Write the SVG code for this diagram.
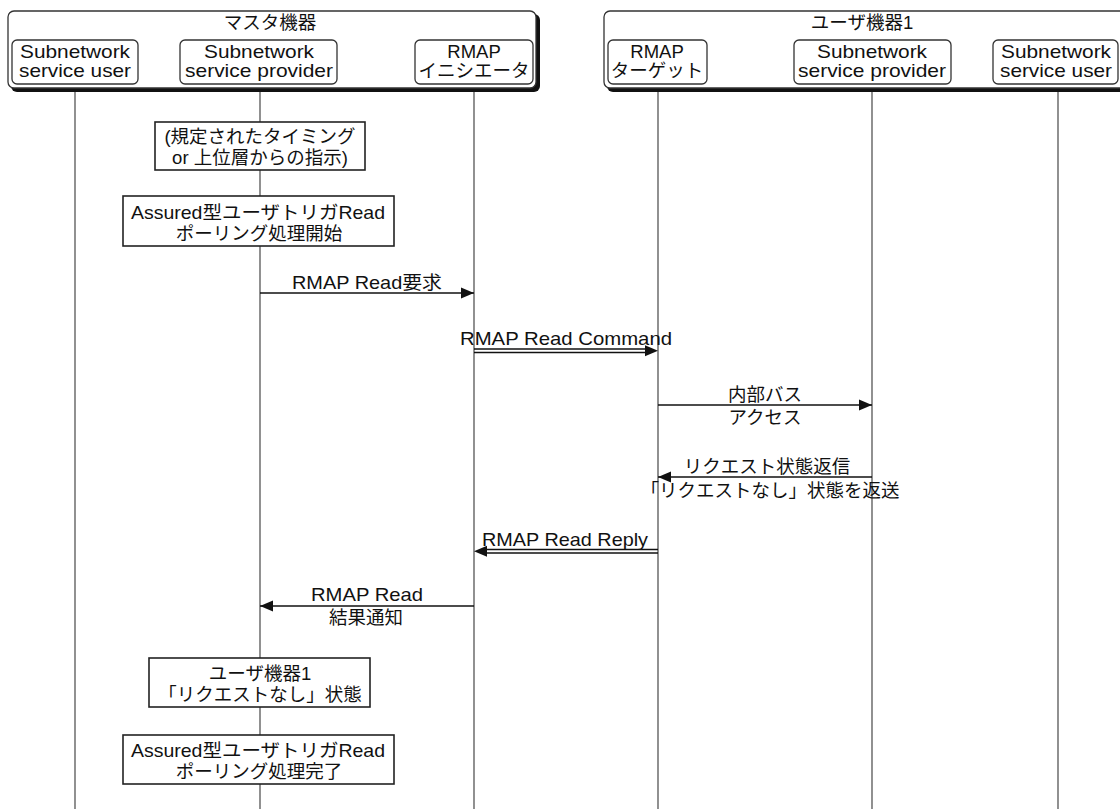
<svg xmlns="http://www.w3.org/2000/svg" width="1120" height="809" viewBox="0 0 1120 809">
<style>
text{font-family:"Liberation Sans","Noto Sans CJK JP",sans-serif;font-size:18.5px;fill:#111;text-anchor:middle}
.life{stroke:#555;stroke-width:1.3;fill:none}
.grp{fill:#fff;stroke:#333;stroke-width:1.3}
.shadow{fill:#111;stroke:none}
.hbox{fill:#fff;stroke:#333;stroke-width:1.3}
.pbox{fill:#fff;stroke:#222;stroke-width:1.6}
.msg{stroke:#111;stroke-width:1.4;fill:none}
</style>
<defs>
<marker id="ah" markerUnits="userSpaceOnUse" markerWidth="14" markerHeight="12" refX="13" refY="6" orient="auto">
<path d="M0,0.5 L13,6 L0,11.5 z" fill="#111"/>
</marker>
</defs>

<g id="lifelines">
<line class="life" x1="75" y1="88" x2="75" y2="809"/>
<line class="life" x1="260" y1="88" x2="260" y2="809"/>
<line class="life" x1="474" y1="88" x2="474" y2="809"/>
<line class="life" x1="658" y1="88" x2="658" y2="809"/>
<line class="life" x1="872" y1="88" x2="872" y2="809"/>
<line class="life" x1="1058" y1="88" x2="1058" y2="809"/>
</g>

<g id="master">
<rect class="shadow" x="11" y="14" width="529" height="78" rx="6"/>
<rect class="grp" x="8" y="11" width="528" height="77" rx="6"/>
<text x="270" y="29">マスタ機器</text>
</g>
<g id="user1">
<rect class="shadow" x="607" y="14" width="540" height="78" rx="6"/>
<rect class="grp" x="604" y="11" width="540" height="77" rx="6"/>
<text x="862" y="29">ユーザ機器1</text>
</g>

<g id="m-ssu">
<rect class="hbox" x="12" y="40" width="126" height="44" rx="5"/>
<text x="75" y="58" textLength="110" lengthAdjust="spacingAndGlyphs">Subnetwork</text>
<text x="75" y="77" textLength="112" lengthAdjust="spacingAndGlyphs">service user</text>
</g>
<g id="m-ssp">
<rect class="hbox" x="180" y="40" width="157" height="44" rx="5"/>
<text x="259" y="58" textLength="110" lengthAdjust="spacingAndGlyphs">Subnetwork</text>
<text x="259" y="77" textLength="148" lengthAdjust="spacingAndGlyphs">service provider</text>
</g>
<g id="m-rmap">
<rect class="hbox" x="415" y="40" width="118" height="44" rx="5"/>
<text x="474" y="58">RMAP</text>
<text x="474" y="77">イニシエータ</text>
</g>
<g id="u-rmap">
<rect class="hbox" x="608" y="40" width="99" height="44" rx="5"/>
<text x="657" y="58">RMAP</text>
<text x="657" y="77">ターゲット</text>
</g>
<g id="u-ssp">
<rect class="hbox" x="794" y="40" width="157" height="44" rx="5"/>
<text x="872" y="58" textLength="110" lengthAdjust="spacingAndGlyphs">Subnetwork</text>
<text x="872" y="77" textLength="148" lengthAdjust="spacingAndGlyphs">service provider</text>
</g>
<g id="u-ssu">
<rect class="hbox" x="993" y="40" width="125" height="44" rx="5"/>
<text x="1056" y="58" textLength="110" lengthAdjust="spacingAndGlyphs">Subnetwork</text>
<text x="1056" y="77" textLength="112" lengthAdjust="spacingAndGlyphs">service user</text>
</g>

<g id="p-trigger">
<rect class="pbox" x="155" y="122" width="210" height="48"/>
<text x="260" y="143">(規定されたタイミング</text>
<text x="260" y="164">or 上位層からの指示)</text>
</g>
<g id="p-start">
<rect class="pbox" x="123" y="196" width="271" height="50"/>
<text x="258" y="219" textLength="254" lengthAdjust="spacingAndGlyphs">Assured型ユーザトリガRead</text>
<text x="259" y="240">ポーリング処理開始</text>
</g>
<g id="p-state">
<rect class="pbox" x="149" y="658" width="221" height="49"/>
<text x="260" y="680">ユーザ機器1</text>
<text x="260" y="701">「リクエストなし」状態</text>
</g>
<g id="p-end">
<rect class="pbox" x="123" y="735" width="271" height="49"/>
<text x="258" y="757" textLength="254" lengthAdjust="spacingAndGlyphs">Assured型ユーザトリガRead</text>
<text x="259" y="778">ポーリング処理完了</text>
</g>

<g id="connectors">
<line class="msg" x1="260" y1="293" x2="474" y2="293" marker-end="url(#ah)"/>
<text x="367" y="289" textLength="150" lengthAdjust="spacingAndGlyphs">RMAP Read要求</text>

<line class="msg" x1="474" y1="349" x2="650" y2="349"/>
<line class="msg" x1="474" y1="352.5" x2="650" y2="352.5"/>
<line x1="600" y1="350.7" x2="658" y2="350.7" stroke="none" marker-end="url(#ah)"/>
<text x="566" y="345" textLength="212" lengthAdjust="spacingAndGlyphs">RMAP Read Command</text>

<line class="msg" x1="658" y1="405" x2="872" y2="405" marker-end="url(#ah)"/>
<text x="765" y="401">内部バス</text>
<text x="765" y="424">アクセス</text>

<line class="msg" x1="872" y1="477" x2="658" y2="477" marker-end="url(#ah)"/>
<text x="767" y="473">リクエスト状態返信</text>
<text x="770" y="497">「リクエストなし」状態を返送</text>

<line class="msg" x1="658" y1="549.5" x2="482" y2="549.5"/>
<line class="msg" x1="658" y1="553" x2="482" y2="553"/>
<line x1="530" y1="551.2" x2="474" y2="551.2" stroke="none" marker-end="url(#ah)"/>
<text x="565" y="546" textLength="166" lengthAdjust="spacingAndGlyphs">RMAP Read Reply</text>

<line class="msg" x1="474" y1="606" x2="260" y2="606" marker-end="url(#ah)"/>
<text x="367" y="601" textLength="112" lengthAdjust="spacingAndGlyphs">RMAP Read</text>
<text x="366" y="624">結果通知</text>
</g>
</svg>
